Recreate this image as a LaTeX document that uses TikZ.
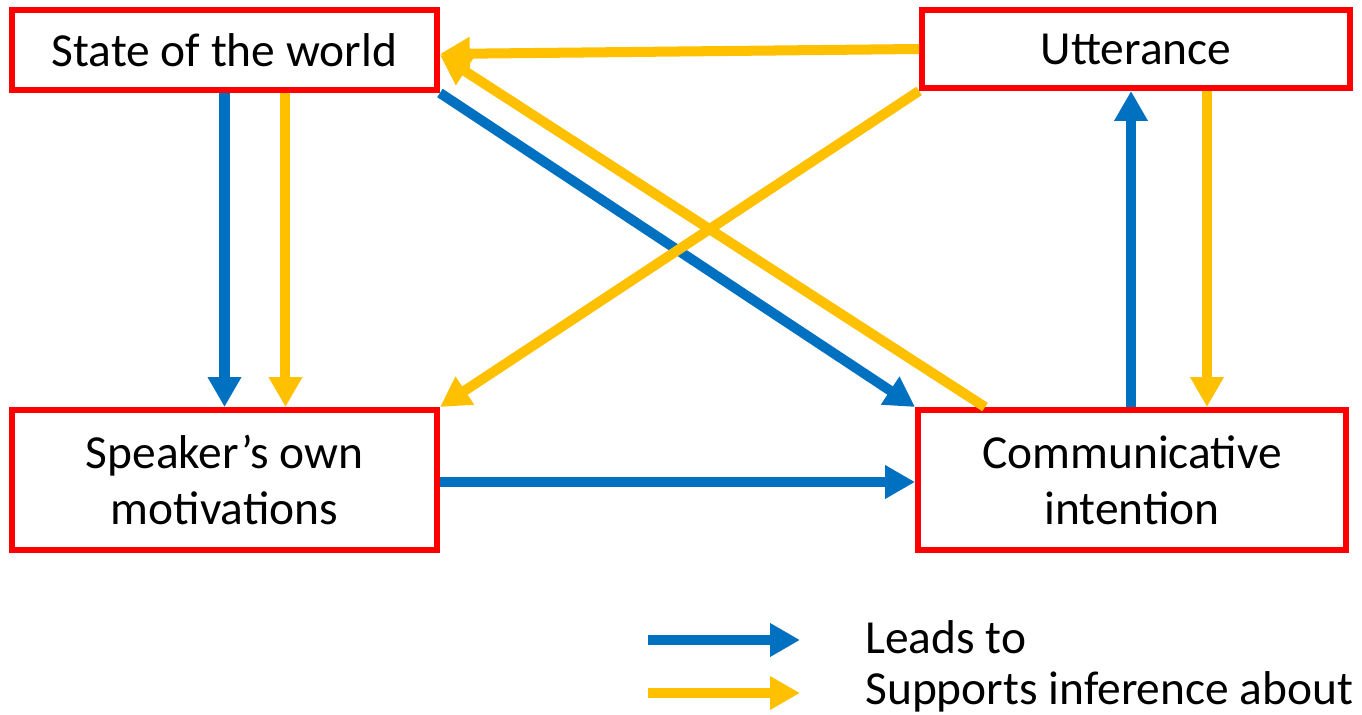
\documentclass[tikz,border=0pt]{standalone}
\usepackage{fontspec}
\setmainfont{Carlito}
\usetikzlibrary{arrows.meta}
\definecolor{bblue}{HTML}{0070C0}
\definecolor{byellow}{HTML}{FFC000}
\definecolor{bred}{HTML}{FF0000}
\begin{document}
\begin{tikzpicture}[x=0.02cm,y=-0.02cm,>={Triangle[length=17pt,width=18pt]},line join=miter,font=\fontsize{27}{32}\selectfont,
	box/.style={draw=bred,line width=3.4pt,fill=white,rectangle,align=center,inner sep=0pt},
	lead/.style={->,draw=bblue,line width=5.7pt},
	infer/.style={->,draw=byellow,line width=5.7pt}]
		\useasboundingbox (0,0) rectangle (1362,715);
		\node[box,minimum width=8.5cm,minimum height=1.6cm] (sw) at (224.5,50) {State of the world};
		\node[box,minimum width=8.56cm,minimum height=1.56cm] (ut) at (1136,49) {Utterance};
		\node[box,minimum width=8.5cm,minimum height=2.8cm] (sp) at (224.5,480) {Speaker's own\\motivations};
		\node[box,minimum width=8.56cm,minimum height=2.8cm] (ci) at (1132,480) {Communicative\\intention};
		\coordinate (swy) at ([xshift=1.22cm]sw.south);
		\coordinate (spy) at ([xshift=1.22cm]sp.north);
		\coordinate (uty) at ([xshift=1.42cm]ut.south);
		\coordinate (ciy) at (uty |- ci.north);
		\coordinate (cib) at (ci.north -| 1131,0);
		\coordinate (utb) at (ut.south -| 1131,0);
		\coordinate (cix) at ([xshift=-2.94cm]ci.north);
		\draw[lead] (sw.south) -- (sp.north);
		\draw[infer] (swy) -- (spy);
		\draw[infer] (ut.west) -- ([yshift=-0.08cm]sw.east);
		\draw[lead] (sw.south east) -- (ci.north west);
		\draw[infer] (cix) -- ([yshift=-0.1cm]sw.east);
		\draw[infer] (ut.south west) -- (sp.north east);
		\draw[lead] (cib) -- (utb);
		\draw[infer] (uty) -- (ciy);
		\draw[lead] ([yshift=-0.04cm]sp.east) -- ([yshift=-0.04cm]ci.west);
		% legend
		\coordinate (la) at (648,640);
		\coordinate (lb) at (800,640);
		\coordinate (ia) at (648,693);
		\coordinate (ib) at (800,693);
		\draw[lead] (la) -- (lb);
		\draw[infer] (ia) -- (ib);
		\node[anchor=west,inner sep=0pt] (ll) at (865,637) {Leads to};
		\node[anchor=west,inner sep=0pt] (il) at (865,692) {Supports inference about};
\end{tikzpicture}
\end{document}
